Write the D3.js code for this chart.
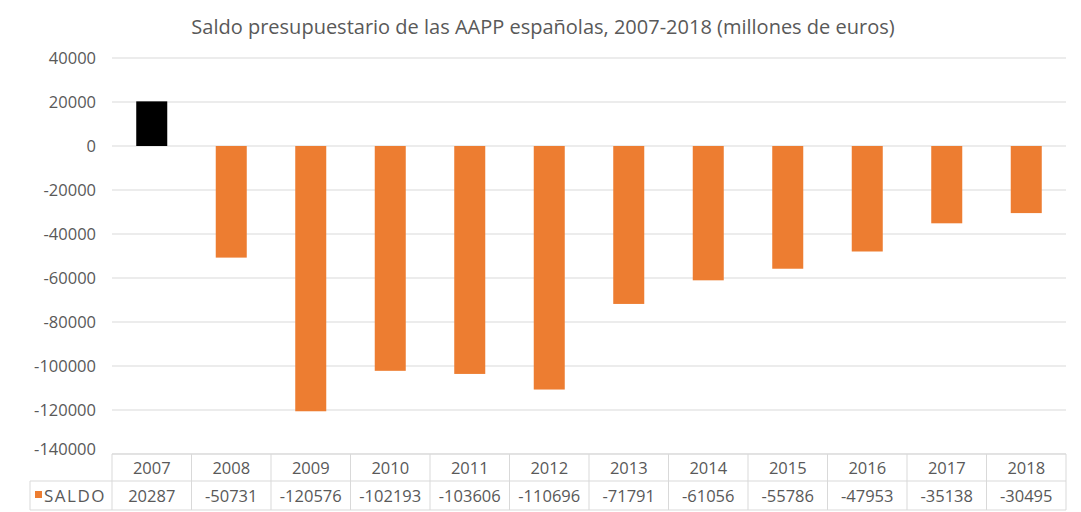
<!DOCTYPE html>
<html>
<head>
<meta charset="utf-8">
<script src="https://cdn.jsdelivr.net/npm/d3@7"></script>
<style>
  html, body { margin: 0; padding: 0; background: #fff; }
  svg { display: block; }
  text { font-family: "Open Sans", "Noto Sans", sans-serif; fill: #595959; }
</style>
</head>
<body>
<svg id="chart" width="1081" height="512"></svg>
<script>
// Saldo presupuestario de las AAPP españolas, 2007-2018 (millones de euros)
const years = ["2007", "2008", "2009", "2010", "2011", "2012", "2013", "2014", "2015", "2016", "2017", "2018"];
const saldo = [20287, -50731, -120576, -102193, -103606, -110696, -71791, -61056, -55786, -47953, -35138, -30495];
const yTicks = [40000, 20000, 0, -20000, -40000, -60000, -80000, -100000, -120000, -140000];
const seriesName = "SALDO";
const title = "Saldo presupuestario de las AAPP españolas, 2007-2018 (millones de euros)";

const W = 1081, H = 512;
const plot = { left: 112, right: 1066, top: 58, bottom: 454 };
const svg = d3.select("#chart");

const x = d3.scaleBand().domain(years).range([plot.left, plot.right]).paddingInner(0.61).paddingOuter(0.305);
const xCol = d3.scaleBand().domain(years).range([plot.left, plot.right]);
const y = d3.scaleLinear().domain([-140000, 40000]).range([plot.bottom, plot.top]);

// title
svg.append("text")
  .attr("x", 543).attr("y", 34)
  .attr("text-anchor", "middle")
  .style("font-size", "20px")
  .text(title);

// gridlines
svg.append("g")
  .selectAll("line")
  .data(yTicks)
  .join("line")
  .attr("x1", plot.left).attr("x2", plot.right)
  .attr("y1", d => y(d)).attr("y2", d => y(d))
  .attr("stroke", "#d9d9d9").attr("stroke-width", 1);

// y axis labels (plain hyphen for negatives)
const yAxis = d3.axisLeft(y).tickValues(yTicks).tickSize(0).tickPadding(16).tickFormat(d => String(d));
const gy = svg.append("g").attr("transform", `translate(${plot.left},0)`).call(yAxis);
gy.select(".domain").remove();
gy.selectAll("text")
  .style("font-size", "16.5px")
  .style("font-family", "'Open Sans', 'Noto Sans', sans-serif")
  .attr("fill", "#666666");
// last tick sits just above the data table
gy.selectAll(".tick").filter(d => d === -140000).select("text").attr("dy", "0.05em");

// bars
svg.append("g")
  .selectAll("rect")
  .data(years.map((yr, i) => ({ yr, v: saldo[i] })))
  .join("rect")
  .attr("x", d => x(d.yr))
  .attr("width", x.bandwidth())
  .attr("y", d => y(Math.max(0, d.v)))
  .attr("height", d => Math.abs(y(d.v) - y(0)))
  .attr("fill", d => d.v >= 0 ? "#000000" : "#ED7D31");

// data table
const rowTop = plot.bottom, rowMid = 481, rowBot = 510, labelLeft = 30;
const tbl = svg.append("g").attr("stroke", "#d9d9d9").attr("stroke-width", 1).attr("fill", "none");
tbl.append("line").attr("x1", plot.left).attr("x2", plot.right).attr("y1", rowTop).attr("y2", rowTop);
tbl.append("line").attr("x1", labelLeft).attr("x2", plot.right).attr("y1", rowMid).attr("y2", rowMid);
tbl.append("line").attr("x1", labelLeft).attr("x2", plot.right).attr("y1", rowBot).attr("y2", rowBot);
tbl.append("line").attr("x1", labelLeft).attr("x2", labelLeft).attr("y1", rowMid).attr("y2", rowBot);
tbl.selectAll("line.col")
  .data(years.concat(["end"]))
  .join("line")
  .attr("class", "col")
  .attr("x1", (d, i) => plot.left + i * xCol.bandwidth())
  .attr("x2", (d, i) => plot.left + i * xCol.bandwidth())
  .attr("y1", rowTop).attr("y2", rowBot);

svg.append("g").selectAll("text")
  .data(years)
  .join("text")
  .attr("x", d => xCol(d) + xCol.bandwidth() / 2)
  .attr("y", (rowTop + rowMid) / 2 + 6)
  .attr("text-anchor", "middle")
  .style("font-size", "16.5px")
  .text(d => d);

svg.append("g").selectAll("text")
  .data(years.map((yr, i) => ({ yr, v: saldo[i] })))
  .join("text")
  .attr("x", d => xCol(d.yr) + xCol.bandwidth() / 2)
  .attr("y", (rowMid + rowBot) / 2 + 6)
  .attr("text-anchor", "middle")
  .style("font-size", "16.5px")
  .text(d => String(d.v));

// legend key in the table
svg.append("rect").attr("x", 35).attr("y", 491).attr("width", 7).attr("height", 7).attr("fill", "#ED7D31");
svg.append("text").attr("x", 44).attr("y", (rowMid + rowBot) / 2 + 6)
  .style("font-size", "17px").style("letter-spacing", "1.5px").text(seriesName);
</script>
</body>
</html>
